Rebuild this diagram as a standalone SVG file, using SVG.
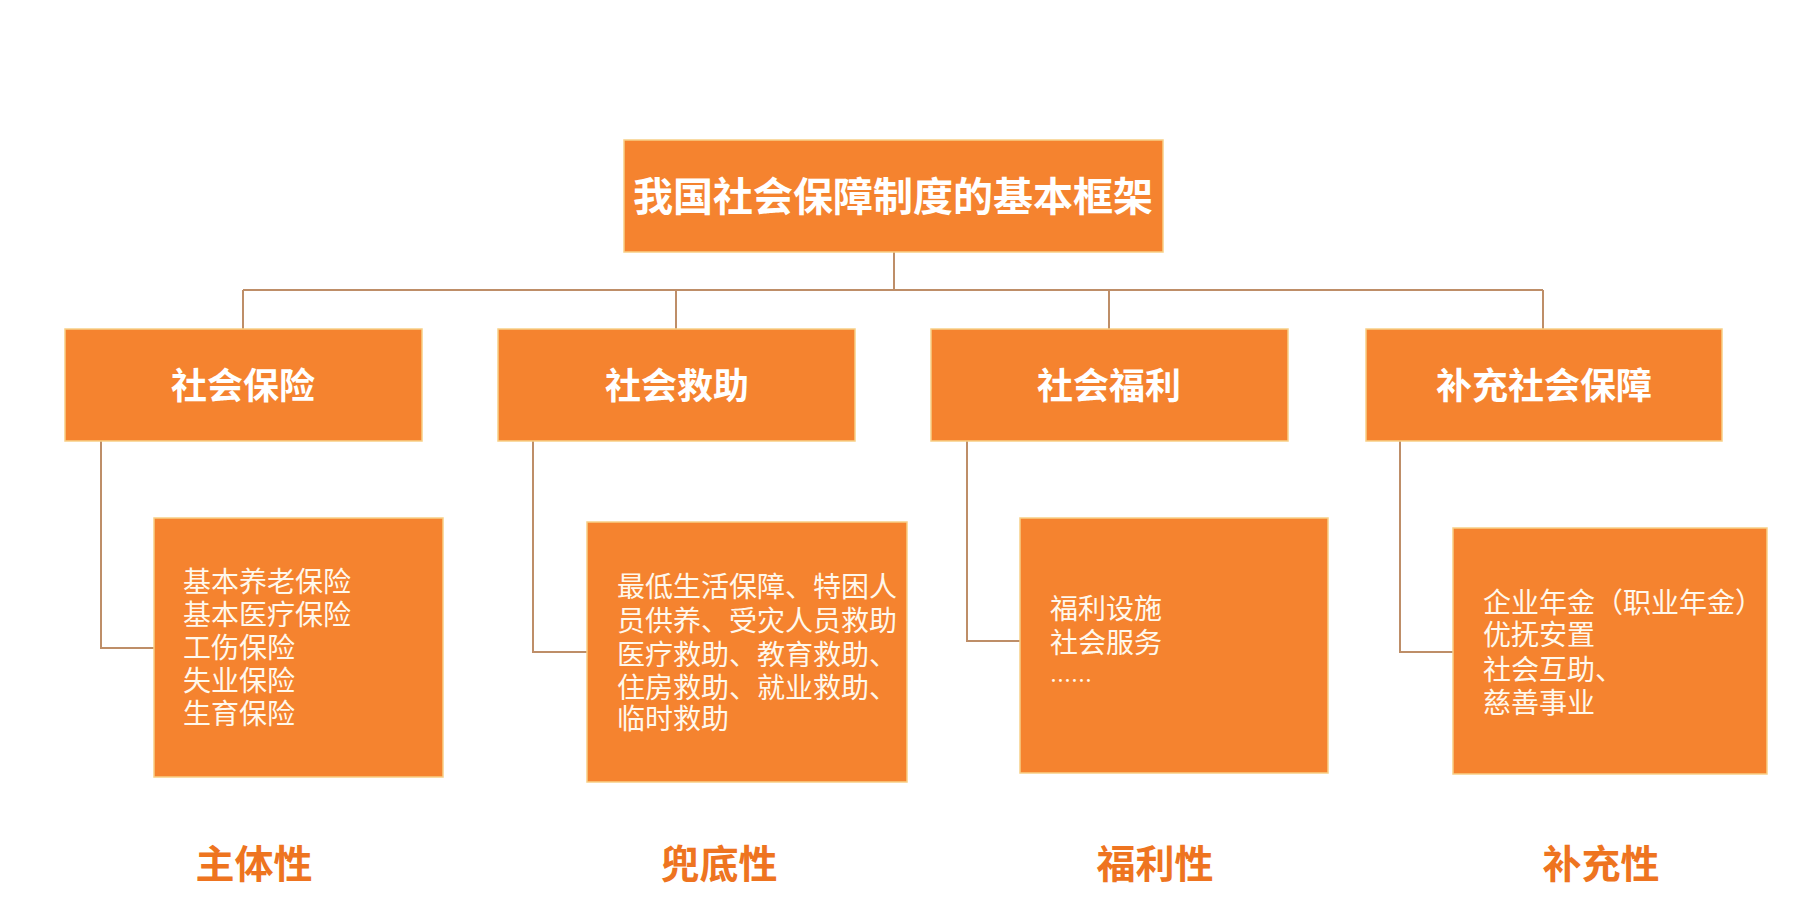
<svg xmlns="http://www.w3.org/2000/svg" width="1820" height="915" viewBox="0 0 1820 915">
<style>
.box{fill:#F5832F;stroke:#F8CF86;stroke-width:1.5}
.title{font-family:"Noto Sans CJK SC","Noto Sans",sans-serif;font-weight:bold;fill:#FFFFFF;text-anchor:middle}
.item{font-family:"Noto Sans CJK SC","Noto Sans",sans-serif;font-size:28px;fill:#FFF8EC}
.trait{font-family:"Noto Sans CJK SC","Noto Sans",sans-serif;font-weight:bold;font-size:39px;fill:#EE7420;text-anchor:middle}
.conn{fill:none;stroke:#BE8E68;stroke-width:2}
</style>
<rect width="1820" height="915" fill="#FFFFFF"/>
<g id="connectors">
<path class="conn" d="M894,252 V290 M243,290 H1543 M243,290 V329 M676,290 V329 M1109,290 V329 M1543,290 V329"/>
<path class="conn" d="M101,441 V648 H154"/>
<path class="conn" d="M533,441 V652 H587"/>
<path class="conn" d="M967,441 V641 H1020"/>
<path class="conn" d="M1400,441 V652 H1453"/>
</g>
<g id="root">
<rect class="box" x="624" y="140" width="539" height="112"/>
<text class="title" x="893" y="211" font-size="40">我国社会保障制度的基本框架</text>
</g>
<g id="n-insurance">
<rect class="box" x="65" y="329" width="357" height="112"/>
<text class="title" x="243" y="399" font-size="36">社会保险</text>
</g>
<g id="n-assistance">
<rect class="box" x="498" y="329" width="357" height="112"/>
<text class="title" x="677" y="399" font-size="36">社会救助</text>
</g>
<g id="n-welfare">
<rect class="box" x="931" y="329" width="357" height="112"/>
<text class="title" x="1109" y="399" font-size="36">社会福利</text>
</g>
<g id="n-supplement">
<rect class="box" x="1366" y="329" width="356" height="112"/>
<text class="title" x="1544" y="399" font-size="36">补充社会保障</text>
</g>
<g id="d-insurance">
<rect class="box" x="154" y="518" width="289" height="259"/>
<text class="item"><tspan x="183" y="592">基本养老保险</tspan><tspan x="183" y="625">基本医疗保险</tspan><tspan x="183" y="658">工伤保险</tspan><tspan x="183" y="691">失业保险</tspan><tspan x="183" y="724">生育保险</tspan></text>
</g>
<g id="d-assistance">
<rect class="box" x="587" y="522" width="320" height="260"/>
<text class="item"><tspan x="617" y="597">最低生活保障、特困人</tspan><tspan x="617" y="631">员供养、受灾人员救助</tspan><tspan x="617" y="665">医疗救助、教育救助、</tspan><tspan x="617" y="698">住房救助、就业救助、</tspan><tspan x="617" y="729">临时救助</tspan></text>
</g>
<g id="d-welfare">
<rect class="box" x="1020" y="518" width="308" height="255"/>
<text class="item"><tspan x="1050" y="619">福利设施</tspan><tspan x="1050" y="653">社会服务</tspan><tspan x="1050" y="688" font-size="21">……</tspan></text>
</g>
<g id="d-supplement">
<rect class="box" x="1453" y="528" width="314" height="246"/>
<text class="item"><tspan x="1483" y="613">企业年金（职业年金）</tspan><tspan x="1483" y="645">优抚安置</tspan><tspan x="1483" y="680">社会互助、</tspan><tspan x="1483" y="713">慈善事业</tspan></text>
</g>
<g id="traits">
<text class="trait" x="254" y="878">主体性</text>
<text class="trait" x="719" y="878">兜底性</text>
<text class="trait" x="1155" y="878">福利性</text>
<text class="trait" x="1601" y="878">补充性</text>
</g>
</svg>
